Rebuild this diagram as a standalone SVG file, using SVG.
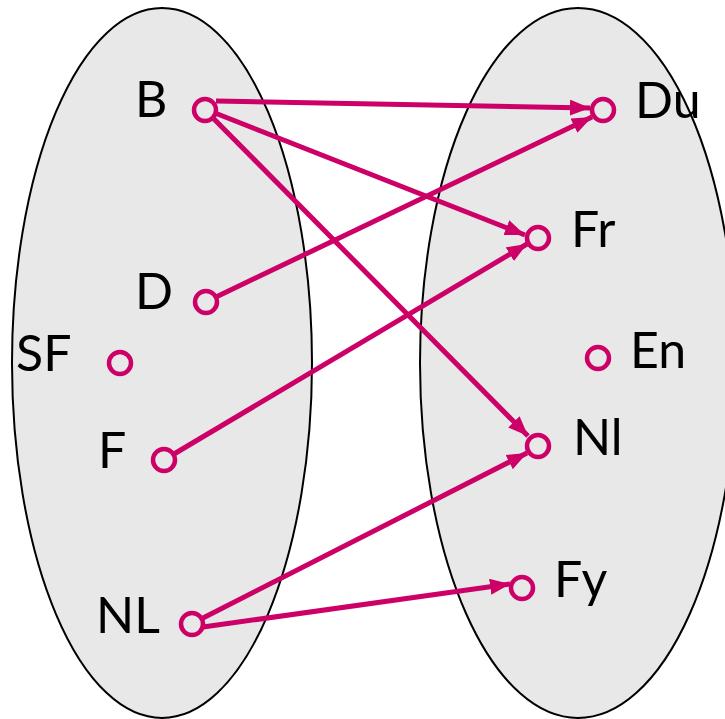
<svg xmlns="http://www.w3.org/2000/svg" width="725" height="719" viewBox="0 0 725 719">
<style>
.set{fill:#e8e8e8;stroke:#000;stroke-width:2}
.pt{fill:none;stroke:#cc0066;stroke-width:4.5}
.lbl{font-family:"Lato","Open Sans","Liberation Sans",sans-serif;font-size:50px;fill:#000}
.edge{stroke:#cc0066;stroke-width:5;fill:none;marker-end:url(#ah)}
</style>
<defs>
<marker id="ah" markerUnits="userSpaceOnUse" viewBox="0 0 20 16" refX="20" refY="8" markerWidth="20" markerHeight="16" orient="auto">
<path d="M0,0 L20,8 L0,16 z" fill="#cc0066"/>
</marker>
</defs>
<rect width="725" height="719" fill="#fff"/>
<ellipse class="set" cx="162" cy="363" rx="150" ry="355"/>
<ellipse class="set" cx="578" cy="363" rx="158" ry="355"/>
<g id="connectors">
<line class="edge" x1="216" y1="101" x2="590" y2="108"/>
<line class="edge" x1="215" y1="113" x2="525" y2="235"/>
<line class="edge" x1="213" y1="118" x2="528" y2="436"/>
<line class="edge" x1="216" y1="297" x2="592" y2="117"/>
<line class="edge" x1="174" y1="454" x2="527" y2="244"/>
<line class="edge" x1="203" y1="618" x2="527" y2="453"/>
<line class="edge" x1="203" y1="627" x2="510" y2="584"/>
</g>
<g id="B"><circle class="pt" cx="205" cy="110" r="11"/><text class="lbl" x="135" y="117">B</text></g>
<g id="D"><circle class="pt" cx="206" cy="302" r="11"/><text class="lbl" x="135" y="309">D</text></g>
<g id="SF"><circle class="pt" cx="120" cy="363" r="11"/><text class="lbl" x="16" y="371">SF</text></g>
<g id="F"><circle class="pt" cx="164" cy="460" r="11"/><text class="lbl" x="98" y="468">F</text></g>
<g id="NL"><circle class="pt" cx="192" cy="624" r="11"/><text class="lbl" x="96" y="633">NL</text></g>
<g id="Du"><circle class="pt" cx="603" cy="110" r="11"/><text class="lbl" x="635" y="118">Du</text></g>
<g id="Fr"><circle class="pt" cx="538" cy="238" r="11"/><text class="lbl" x="571" y="247">Fr</text></g>
<g id="En"><circle class="pt" cx="598" cy="358" r="11"/><text class="lbl" x="630" y="368">En</text></g>
<g id="Nl"><circle class="pt" cx="538" cy="446" r="11"/><text class="lbl" x="573" y="455">Nl</text></g>
<g id="Fy"><circle class="pt" cx="522" cy="588" r="11"/><text class="lbl" x="554" y="597">Fy</text></g>
</svg>
